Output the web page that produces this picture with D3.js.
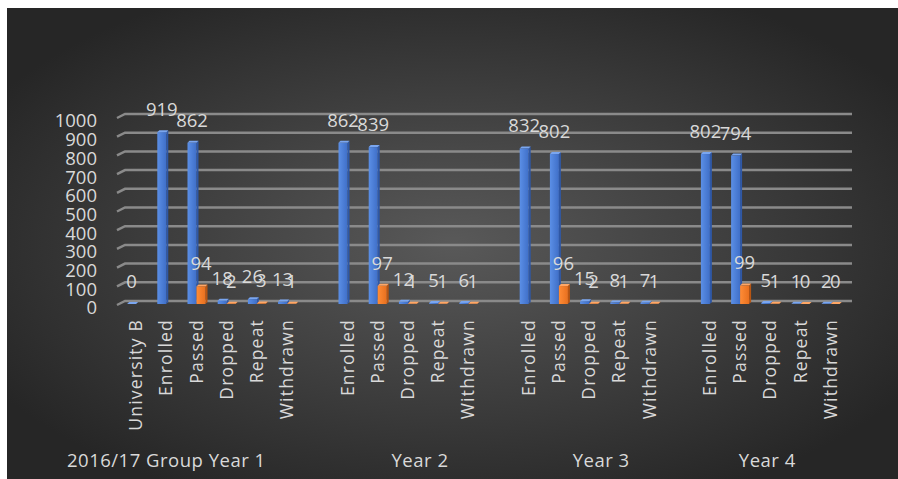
<!DOCTYPE html>
<html>
<head>
<meta charset="utf-8">
<script src="https://cdn.jsdelivr.net/npm/d3@7/dist/d3.min.js"></script>
<style>
  html, body { margin: 0; padding: 0; background: #ffffff; }
  svg { display: block; }
  text { font-family: "Open Sans", "Noto Sans", sans-serif; fill: #d9d9d9; }
</style>
</head>
<body>
<svg id="chart" width="898" height="479"></svg>
<script>
// Category axis: one slot per column position, blanks separate the year groups
const categories = [
  "University B", "Enrolled", "Passed", "Dropped", "Repeat", "Withdrawn", "",
  "Enrolled", "Passed", "Dropped", "Repeat", "Withdrawn", "",
  "Enrolled", "Passed", "Dropped", "Repeat", "Withdrawn", "",
  "Enrolled", "Passed", "Dropped", "Repeat", "Withdrawn"
];

// Student counts (blue series)
const countValues = [
  0, 919, 862, 18, 26, 13, null,
  862, 839, 12, 5, 6, null,
  832, 802, 15, 8, 7, null,
  802, 794, 5, 1, 2
];

// Percentage of the year's enrolment (orange series)
const percentValues = [
  null, null, 94, 2, 3, 1, null,
  null, 97, 1, 1, 1, null,
  null, 96, 2, 1, 1, null,
  null, 99, 1, 0, 0
];

// Outer (group) labels with the category slots they span
const groupLabels = ["2016/17 Group Year 1", "Year 2", "Year 3", "Year 4"];
const groupSpans = [[0, 2.2], [7, 12], [13, 18], [19, 23]];

const yTicks = [0, 100, 200, 300, 400, 500, 600, 700, 800, 900, 1000];

const svg = d3.select("#chart");
const W = 898, H = 479;

// Dark radial backdrop
const defs = svg.append("defs");
const bg = defs.append("radialGradient").attr("id", "bg")
  .attr("cx", "50%").attr("cy", "50%").attr("r", "60%");
bg.append("stop").attr("offset", "0%").attr("stop-color", "#595959");
bg.append("stop").attr("offset", "100%").attr("stop-color", "#262626");

function barGradient(id, light, dark) {
  const g = defs.append("linearGradient").attr("id", id)
    .attr("x1", "0%").attr("x2", "100%").attr("y1", "0%").attr("y2", "0%");
  g.append("stop").attr("offset", "0%").attr("stop-color", light);
  g.append("stop").attr("offset", "100%").attr("stop-color", dark);
}
barGradient("blueFace", "#5b8fe6", "#3f6fc8");
barGradient("orangeFace", "#ff8c36", "#e8701f");

svg.append("rect").attr("x", 7).attr("y", 8)
  .attr("width", W - 7).attr("height", H - 8)
  .attr("fill", "url(#bg)");

// Scales
const x = d3.scaleBand()
  .domain(d3.range(categories.length))
  .range([118, 118 + 30.2 * categories.length]);
// centre of a (possibly fractional) category slot
const slot = i => x(0) + x.bandwidth() / 2 + i * x.step();

const yWall = d3.scaleLinear().domain([0, 1000]).range([301, 114]);
const yBar = d3.scaleLinear().domain([0, 1000]).range([304, 117]);

// Gridlines on the back wall, with the short perspective step at the left
const gridRight = 852;
svg.append("g").selectAll("path").data(yTicks).join("path")
  .attr("d", v => `M117,${yWall(v) + 4}L125,${yWall(v)}L${gridRight},${yWall(v)}`)
  .attr("fill", "none")
  .attr("stroke", "#8a8a8a")
  .attr("stroke-width", 2.5);

// Value axis labels
const yAxis = d3.axisLeft(yBar).tickValues(yTicks).tickFormat(d3.format("d"))
  .tickSize(0).tickPadding(0);
const yAxisG = svg.append("g").attr("transform", "translate(97,4)").call(yAxis);
yAxisG.select(".domain").remove();
yAxisG.selectAll("text")
  .attr("font-size", 18.5)
  .attr("fill", "#d9d9d9")
  .style("font-family", '"Open Sans", sans-serif');

// Columns with a thin depth face
const depth = 2;
const barW = 9;
const series = [
  { values: countValues, offset: -6, face: "url(#blueFace)", top: "#7aa6f0", side: "#2f58a6", cls: "count" },
  { values: percentValues, offset: 3, face: "url(#orangeFace)", top: "#ffa766", side: "#b85512", cls: "pct" }
];

series.forEach(s => {
  const items = s.values.map((v, i) => ({ v, i })).filter(d => d.v !== null);
  const g = svg.append("g").attr("class", s.cls);
  const left = d => slot(d.i) + s.offset;
  g.selectAll("path.side").data(items).join("path").attr("class", "side")
    .attr("d", d => {
      const l = left(d) + barW, t = yBar(d.v), b = yBar(0);
      return `M${l},${t}L${l + depth},${t - depth}L${l + depth},${b - depth}L${l},${b}Z`;
    })
    .attr("fill", s.side);
  g.selectAll("path.top").data(items).join("path").attr("class", "top")
    .attr("d", d => {
      const l = left(d), t = yBar(d.v);
      return `M${l},${t}L${l + barW},${t}L${l + barW + depth},${t - depth}L${l + depth},${t - depth}Z`;
    })
    .attr("fill", s.top);
  g.selectAll("rect").data(items).join("rect")
    .attr("x", d => left(d))
    .attr("y", d => yBar(d.v))
    .attr("width", barW)
    .attr("height", d => yBar(0) - yBar(d.v))
    .attr("fill", s.face);
  g.selectAll("text").data(items).join("text")
    .attr("x", d => left(d) + barW / 2)
    .attr("y", d => yBar(d.v) - 16)
    .attr("text-anchor", "middle")
    .attr("font-size", 18.5)
    .text(d => d.v);
});

// Inner category labels, rotated
svg.append("g").selectAll("text")
  .data(categories.map((c, i) => ({ c, i })).filter(d => d.c !== ""))
  .join("text")
  .attr("transform", d => `translate(${slot(d.i) + 2},319) rotate(-90)`)
  .attr("text-anchor", "end")
  .attr("dominant-baseline", "central")
  .attr("font-size", 17.5)
  .attr("letter-spacing", 1.2)
  .text(d => d.c);

// Outer group labels
svg.append("g").selectAll("text")
  .data(groupLabels.map((label, k) => ({ label, k })))
  .join("text")
  .attr("x", d => (slot(groupSpans[d.k][0]) + slot(groupSpans[d.k][1])) / 2)
  .attr("y", 467)
  .attr("text-anchor", "middle")
  .attr("font-size", 18.5)
  .attr("letter-spacing", 0.5)
  .text(d => d.label);
</script>
</body>
</html>
